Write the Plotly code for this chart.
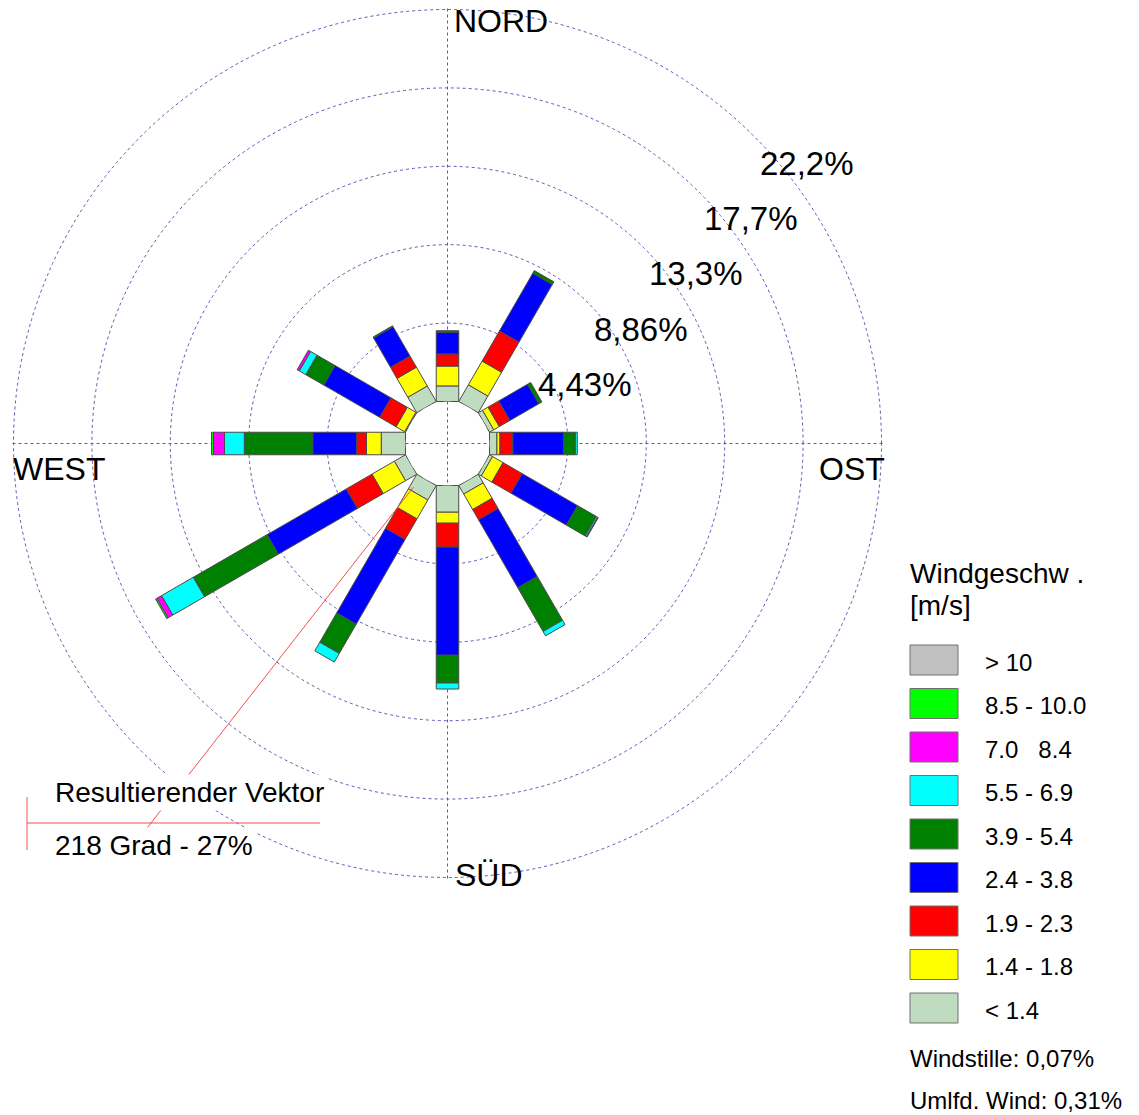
import numpy as np
import plotly.graph_objects as go

# ---------------- data ----------------
directions = [0, 30, 60, 90, 120, 150, 180, 210, 240, 270, 300, 330]

class_labels = ["< 1.4", "1.4 - 1.8", "1.9 - 2.3", "2.4 - 3.8", "3.9 - 5.4",
                "5.5 - 6.9", "7.0\u00a0\u00a0\u00a08.4", "8.5 - 10.0", "> 10"]
class_colors = ["#C0DCC0", "#FFFF00", "#FF0000", "#0000FF", "#008000",
                "#00FFFF", "#FF00FF", "#00FF00", "#C0C0C0"]

# frequency (%) of each speed class per direction (same order as directions)
freq_lt_1_4 = [0.88, 1.09, 0.28, 0.42, 0.20, 0.56, 1.51, 0.95, 0.73, 1.37, 0.06, 1.01]
freq_1_4_1_8 = [1.12, 1.55, 0.36, 0.17, 0.69, 1.01, 0.62, 1.23, 1.46, 0.84, 0.56, 1.23]
freq_1_9_2_3 = [0.69, 1.97, 0.70, 0.73, 1.25, 0.67, 1.35, 1.35, 1.68, 0.56, 1.07, 0.73]
freq_2_4_3_8 = [1.22, 3.76, 1.88, 2.86, 3.61, 4.43, 6.11, 5.52, 5.16, 2.47, 3.64, 1.91]
freq_3_9_5_4 = [0.09, 0.17, 0.20, 0.67, 1.23, 2.86, 1.57, 1.91, 4.82, 3.87, 1.18, 0.06]
freq_5_5_6_9 = [0.00, 0.00, 0.00, 0.11, 0.08, 0.28, 0.34, 0.56, 2.07, 1.12, 0.42, 0.00]
freq_7_0_8_4 = [0.00, 0.00, 0.00, 0.00, 0.04, 0.00, 0.00, 0.00, 0.31, 0.62, 0.14, 0.00]
freq_8_5_10 = [0.00, 0.00, 0.00, 0.00, 0.00, 0.00, 0.00, 0.00, 0.08, 0.11, 0.00, 0.00]
freq_gt_10 = [0.00, 0.00, 0.00, 0.00, 0.00, 0.00, 0.00, 0.00, 0.00, 0.00, 0.00, 0.00]

ring_values = [4.43, 8.86, 13.29, 17.72, 22.15]
ring_labels = ["4,43%", "8,86%", "13,3%", "17,7%", "22,2%"]

compass_labels = ["NORD", "OST", "SÜD", "WEST"]

vector_direction = 218
vector_percent = 27
calm_text = "Windstille: 0,07%"
variable_text = "Umlfd. Wind: 0,31%"

# ---------------- geometry / style ----------------
W, H = 1139, 1115
CX, CY = 447.5, 443.5
HOLE_PX = 42.0
OUTER_RING_PX = 434.0
PX_PER = (OUTER_RING_PX - HOLE_PX) / ring_values[-1]
RMAX = 22.3
R = HOLE_PX + RMAX * PX_PER          # polar radius in px
HOLE = HOLE_PX / R
HALF = HOLE * np.tan(np.radians(15))
GRID = "#5A5AB4"
EDGE = "#4a4a4a"
VEC_COLOR = "#F05050"
FONT = "Liberation Sans, Arial, sans-serif"

classes = [freq_lt_1_4, freq_1_4_1_8, freq_1_9_2_3, freq_2_4_3_8, freq_3_9_5_4,
           freq_5_5_6_9, freq_7_0_8_4, freq_8_5_10, freq_gt_10]


def frac(v):
    return HOLE + (1 - HOLE) * v / RMAX


def val(f):
    return (f - HOLE) * RMAX / (1 - HOLE)


def rect(theta, v0, v1):
    rs, ts = [], []
    for f, s in [(frac(v0), -1), (frac(v1), -1), (frac(v1), 1), (frac(v0), 1)]:
        rs.append(val(np.hypot(f, HALF)))
        ts.append(theta + s * np.degrees(np.arctan2(HALF, f)))
    rs.append(rs[0])
    ts.append(ts[0])
    return rs, ts


def polar_px(theta, v):
    rp = HOLE_PX + v * PX_PER
    a = np.radians(theta)
    return CX + rp * np.sin(a), CY - rp * np.cos(a)


def px(x):
    return x / W


def py(y):
    return 1 - y / H


fig = go.Figure()

for j, d in enumerate(directions):
    base = 0.0
    for k, series in enumerate(classes):
        v = series[j]
        if v <= 0:
            continue
        rs, ts = rect(d, base, base + v)
        fig.add_trace(go.Scatterpolar(
            r=rs, theta=ts, mode="lines", fill="toself",
            fillcolor=class_colors[k], line=dict(color=EDGE, width=1),
            name=class_labels[k], hoverinfo="name", showlegend=False))
        base += v

shapes = []
annotations = []

# cross lines through the hole (grid continuation)
shapes.append(dict(type="line", xref="paper", yref="paper",
                   x0=px(CX - HOLE_PX), x1=px(CX + HOLE_PX), y0=py(CY), y1=py(CY),
                   line=dict(color=GRID, width=1, dash="dot")))
shapes.append(dict(type="line", xref="paper", yref="paper",
                   x0=px(CX), x1=px(CX), y0=py(CY - HOLE_PX), y1=py(CY + HOLE_PX),
                   line=dict(color=GRID, width=1, dash="dot")))

# resulting vector
x0, y0 = polar_px(vector_direction, 0.75)
x1, y1 = polar_px(vector_direction, vector_percent)
shapes.append(dict(type="line", xref="paper", yref="paper",
                   x0=px(x0), y0=py(y0), x1=px(x1), y1=py(y1),
                   line=dict(color=VEC_COLOR, width=1)))
# vector scale bar
shapes.append(dict(type="line", xref="paper", yref="paper",
                   x0=px(27), x1=px(320), y0=py(823), y1=py(823),
                   line=dict(color=VEC_COLOR, width=1)))
shapes.append(dict(type="line", xref="paper", yref="paper",
                   x0=px(27), x1=px(27), y0=py(797), y1=py(850),
                   line=dict(color=VEC_COLOR, width=1)))

annotations.append(dict(text="Resultierender Vektor", x=px(52), y=py(792),
                        xref="paper", yref="paper", xanchor="left", yanchor="middle",
                        showarrow=False, bgcolor="white", borderpad=2,
                        font=dict(family=FONT, size=28, color="black")))
annotations.append(dict(text=f"{vector_direction} Grad - {vector_percent}%", x=px(52), y=py(846),
                        xref="paper", yref="paper", xanchor="left", yanchor="middle",
                        showarrow=False, bgcolor="white", borderpad=2,
                        font=dict(family=FONT, size=28, color="black")))

# compass labels
compass_pos = [(501.3, 21.5), (851.5, 469), (488.5, 875), (59, 469)]
for lab, (x, y) in zip(compass_labels, compass_pos):
    annotations.append(dict(text=lab, x=px(x), y=py(y), xref="paper", yref="paper",
                            xanchor="center", yanchor="middle", showarrow=False,
                            font=dict(family=FONT, size=32, color="black")))

# ring labels
for t, lab in zip(ring_values, ring_labels):
    x, y = polar_px(45, t)
    annotations.append(dict(text=lab, x=px(x + 52.5), y=py(y + 26.5), xref="paper", yref="paper",
                            xanchor="center", yanchor="middle", showarrow=False,
                            font=dict(family=FONT, size=33, color="black")))

# legend
annotations.append(dict(text="Windgeschw .", x=px(908), y=py(573), xref="paper", yref="paper",
                        xanchor="left", yanchor="middle", showarrow=False,
                        font=dict(family=FONT, size=28, color="black")))
annotations.append(dict(text="[m/s]", x=px(908), y=py(605), xref="paper", yref="paper",
                        xanchor="left", yanchor="middle", showarrow=False,
                        font=dict(family=FONT, size=28, color="black")))
row_y0 = 660
row_step = 43.5
for i, k in enumerate(range(len(class_labels) - 1, -1, -1)):
    yc = row_y0 + i * row_step
    shapes.append(dict(type="rect", xref="paper", yref="paper",
                       x0=px(910), x1=px(958), y0=py(yc - 15), y1=py(yc + 15),
                       fillcolor=class_colors[k], line=dict(color="#707070", width=1)))
    annotations.append(dict(text=class_labels[k], x=px(983), y=py(yc + 2), xref="paper", yref="paper",
                            xanchor="left", yanchor="middle", showarrow=False,
                            font=dict(family=FONT, size=24, color="black")))

annotations.append(dict(text=calm_text, x=px(908), y=py(1058), xref="paper", yref="paper",
                        xanchor="left", yanchor="middle", showarrow=False,
                        font=dict(family=FONT, size=24, color="black")))
annotations.append(dict(text=variable_text, x=px(908), y=py(1100), xref="paper", yref="paper",
                        xanchor="left", yanchor="middle", showarrow=False,
                        font=dict(family=FONT, size=24, color="black")))

fig.update_layout(
    width=W, height=H,
    margin=dict(l=0, r=0, t=0, b=0, autoexpand=False),
    paper_bgcolor="white",
    showlegend=False,
    font=dict(family=FONT),
    polar=dict(
        domain=dict(x=[(CX - R) / W, (CX + R) / W], y=[1 - (CY + R) / H, 1 - (CY - R) / H]),
        hole=HOLE,
        bgcolor="rgba(0,0,0,0)",
        radialaxis=dict(range=[0, RMAX], tickvals=ring_values, showticklabels=False,
                        ticks="", showline=False, gridcolor=GRID, gridwidth=1,
                        griddash="dot", layer="below traces"),
        angularaxis=dict(rotation=90, direction="clockwise", tickvals=[0, 90, 180, 270],
                         showticklabels=False, ticks="", showline=False,
                         gridcolor=GRID, gridwidth=1, griddash="dot",
                         layer="below traces"),
    ),
    shapes=shapes,
    annotations=annotations,
)

fig.write_html("out.html",
               config={"displayModeBar": False},
               post_script="document.body.style.margin='0';document.body.style.overflow='hidden';")
